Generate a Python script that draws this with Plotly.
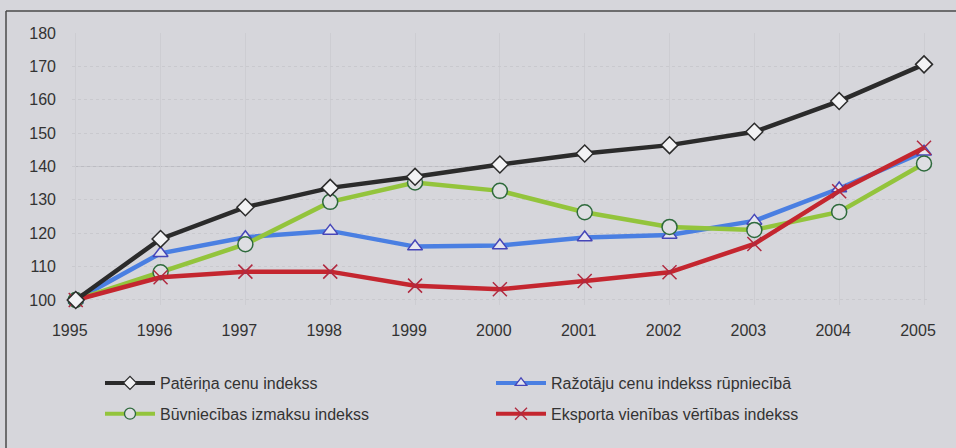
import plotly.graph_objects as go

# Price indices, 1995 = 100
years = [1995, 1996, 1997, 1998, 1999, 2000, 2001, 2002, 2003, 2004, 2005]
pateerina = [100, 118.3, 127.8, 133.6, 136.9, 140.6, 143.9, 146.4, 150.4, 159.6, 170.6]
razotaju = [100, 114.0, 118.8, 120.7, 116.0, 116.3, 118.7, 119.5, 123.7, 133.4, 144.4]
buvniecibas = [100, 108.3, 116.7, 129.4, 135.2, 132.7, 126.3, 121.9, 121.0, 126.4, 140.9]
eksporta = [100, 106.8, 108.5, 108.5, 104.3, 103.2, 105.7, 108.3, 116.8, 132.6, 145.6]

names = {
    "pat": "Patēriņa cenu indekss",
    "raz": "Ražotāju cenu indekss rūpniecībā",
    "buv": "Būvniecības izmaksu indekss",
    "eks": "Eksporta vienības vērtības indekss",
}
y_ticks = [100, 110, 120, 130, 140, 150, 160, 170, 180]

BG = "#d6d6db"
FONT = "Liberation Sans, Arial, sans-serif"
TXT = "#333333"

styles = {
    "raz": dict(color="#4a7fe2", symbol="triangle-up", size=13, fill="#e6e6ee",
                edge="#4646b8", lsize=10),
    "buv": dict(color="#93c43c", symbol="circle", size=15, fill="#dedee2",
                edge="#2e6a3c", lsize=11),
    "eks": dict(color="#c4262f", symbol="x-thin", size=14, fill="#b02a40",
                edge="#b02a40", lsize=12),
    "pat": dict(color="#2b2b2b", symbol="diamond", size=13, fill="#f2f2f4",
                edge="#2b2b2b", lsize=10),
}
series = {"raz": razotaju, "buv": buvniecibas, "eks": eksporta, "pat": pateerina}
legend_of = {"pat": ("legend", 1), "buv": ("legend", 2),
             "raz": ("legend2", 1), "eks": ("legend2", 2)}

fig = go.Figure()

# drawing order: blue, green, red, black (black on top)
for key in ["raz", "buv", "eks", "pat"]:
    s = styles[key]
    fig.add_trace(go.Scatter(
        x=years, y=series[key], name=names[key], mode="lines+markers",
        line=dict(color=s["color"], width=4.5),
        marker=dict(symbol=s["symbol"], size=s["size"], color=s["fill"],
                    line=dict(color=s["edge"], width=1.5)),
        showlegend=False, cliponaxis=False,
    ))

# legend entries with smaller symbols
for key in ["pat", "buv", "raz", "eks"]:
    s = styles[key]
    leg, rank = legend_of[key]
    fig.add_trace(go.Scatter(
        x=[None], y=[None], name=names[key], mode="lines+markers",
        line=dict(color=s["color"], width=4),
        marker=dict(symbol=s["symbol"], size=s["lsize"], color=s["fill"],
                    line=dict(color=s["edge"], width=1.3)),
        legend=leg, legendrank=rank, legendgroup=key, showlegend=True,
    ))

# frame around the chart panel (top and left edges)
fig.add_shape(type="line", xref="paper", yref="paper",
              x0=-0.0771, x1=1.2, y0=1.081, y1=1.081,
              line=dict(color="#4a4a4a", width=1.5))
fig.add_shape(type="line", xref="paper", yref="paper",
              x0=-0.0771, x1=-0.0771, y0=1.081, y1=-0.6,
              line=dict(color="#4a4a4a", width=1.5))

legend_common = dict(
    font=dict(family=FONT, size=16, color=TXT),
    bgcolor="rgba(0,0,0,0)", orientation="v",
    traceorder="grouped", tracegroupgap=7,
    xref="container", yref="container", xanchor="left", yanchor="top",
    itemwidth=50,
)

fig.update_layout(
    width=956, height=448,
    margin=dict(l=72, r=28, t=33, b=143, autoexpand=False),
    paper_bgcolor=BG, plot_bgcolor=BG,
    font=dict(family=FONT, size=16, color=TXT),
    showlegend=True,
    legend=dict(x=100 / 956, y=1 - 366 / 448, **legend_common),
    legend2=dict(x=491 / 956, y=1 - 366 / 448, **legend_common),
    xaxis=dict(
        range=[1994.956, 2005.047], tickmode="array", tickvals=years,
        ticktext=[str(y) for y in years],
        showgrid=True, gridcolor="#cdcdd2", gridwidth=1,
        zeroline=False, showline=False,
        tickfont=dict(family=FONT, size=16, color=TXT),
        ticklabelstandoff=14, ticklabelshift=-6,
    ),
    yaxis=dict(
        range=[98.5, 180], tickmode="array", tickvals=y_ticks,
        showgrid=True, gridcolor="#c9c9ce", gridwidth=1, griddash="dot",
        zeroline=False, showline=False,
        tickfont=dict(family=FONT, size=16, color=TXT),
        ticklabelstandoff=15,
    ),
)

# the 140 level is drawn as a solid reference line
fig.add_hline(y=140, line=dict(color="#bcbcc2", width=1), layer="below")

fig.write_html("out.html", config={"displayModeBar": False})
